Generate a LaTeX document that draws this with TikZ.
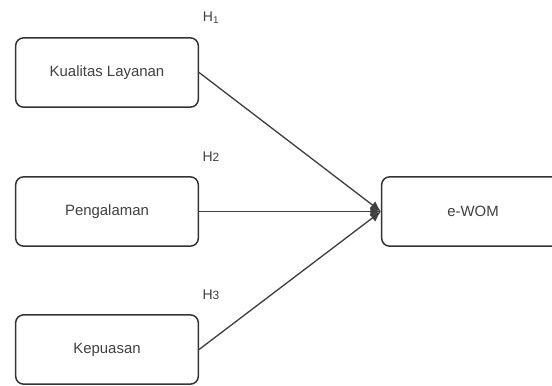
\documentclass[tikz,border=0pt]{standalone}
\usepackage{fontspec}
\setmainfont{Liberation Sans}
\usetikzlibrary{arrows.meta}

\tikzset{
    varbox/.style={draw=black!80, line width=1.1pt, rounded corners=6pt, fill=white,
        minimum width=137pt, minimum height=52pt, inner sep=0pt,
        text=black!75, font=\fontsize{11.2}{13}\selectfont},
    hyp/.style={text=black!75, font=\fontsize{10.5}{12}\selectfont, inner sep=0pt},
    path/.style={draw=black!75, line width=1pt, -{Latex[length=8pt,width=7pt]}}
}

\begin{document}
\begin{tikzpicture}[x=0.75pt, y=-0.75pt]
    \useasboundingbox (0,0) rectangle (552,385);
    \clip (0,0) rectangle (552,385);

    % Variables
    \node[varbox] (kual) at (107,72.5) {Kualitas Layanan};
    \node[varbox] (peng) at (107,211.5) {Pengalaman};
    \node[varbox] (kepu) at (107,349.5) {Kepuasan};
    \node[varbox] (ewom) at (473,211.5) {e-WOM};

    % Hypotheses
    \draw[path] (kual.east) -- (ewom.west);
    \draw[path] (peng.east) -- (ewom.west);
    \draw[path] (kepu.east) -- (ewom.west);

    \node[hyp] (h1) at (211,18) {H\textsubscript{1}};
    \node[hyp] (h2) at (211,157) {H{\small 2}};
    \node[hyp] (h3) at (211,295) {H{\small 3}};

\end{tikzpicture}
\end{document}
